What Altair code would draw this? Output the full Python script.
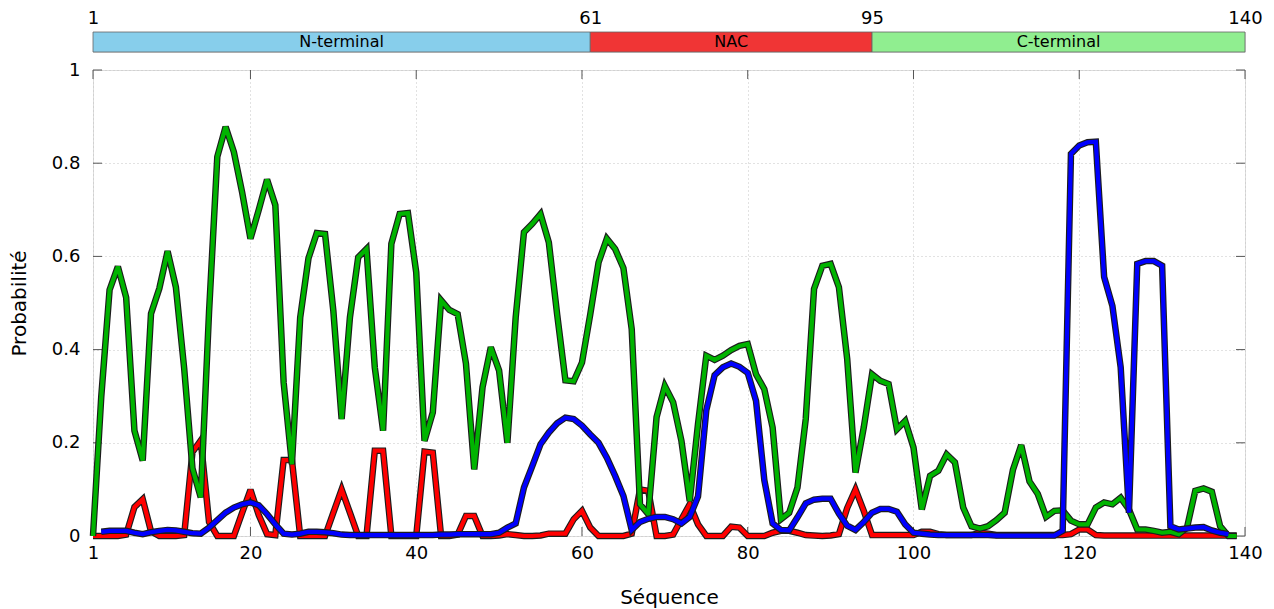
import altair as alt
import pandas as pd

# ---------------- data ----------------
green_start = 1
green = [0.0, 0.30, 0.528, 0.578, 0.512, 0.226, 0.162, 0.477, 0.531, 0.611,
         0.534, 0.36, 0.145, 0.083, 0.48, 0.814, 0.878, 0.824, 0.737, 0.638,
         0.70, 0.765, 0.71, 0.33, 0.154, 0.469, 0.596, 0.650, 0.648, 0.483,
         0.251, 0.469, 0.598, 0.616, 0.362, 0.226, 0.627, 0.691, 0.693, 0.566,
         0.204, 0.265, 0.506, 0.485, 0.476, 0.37, 0.143, 0.319, 0.405, 0.355,
         0.200, 0.469, 0.652, 0.670, 0.691, 0.630, 0.476, 0.334, 0.332, 0.372,
         0.476, 0.587, 0.638, 0.616, 0.575, 0.444, 0.068, 0.047, 0.255, 0.322,
         0.287, 0.204, 0.075, 0.24, 0.387, 0.378, 0.387, 0.399, 0.408, 0.412,
         0.347, 0.315, 0.233, 0.036, 0.050, 0.104, 0.251, 0.530, 0.580, 0.584,
         0.534, 0.38, 0.136, 0.233, 0.347, 0.333, 0.326, 0.229, 0.247, 0.190,
         0.057, 0.129, 0.140, 0.175, 0.158, 0.061, 0.021, 0.016, 0.021, 0.034,
         0.050, 0.142, 0.195, 0.117, 0.09, 0.041, 0.054, 0.055, 0.033, 0.025,
         0.025, 0.061, 0.072, 0.068, 0.082, 0.057, 0.014, 0.014, 0.011, 0.007,
         0.009, 0.004, 0.018, 0.097, 0.102, 0.095, 0.021, 0.0, 0.0]

red_start = 1
red = [0.0, 0.0, 0.0, 0.0, 0.003, 0.062, 0.079, 0.01, 0.0, 0.0,
       0.0, 0.002, 0.18, 0.205, 0.03, 0.0, 0.0, 0.0, 0.05, 0.099,
       0.045, 0.004, 0.002, 0.163, 0.163, 0.0, 0.0, 0.0, 0.0, 0.05,
       0.1, 0.05, 0.0, 0.0, 0.183, 0.183, 0.0, 0.0, 0.0, 0.0,
       0.181, 0.179, 0.0, 0.0, 0.003, 0.043, 0.043, 0.0, 0.0, 0.001,
       0.004, 0.002, 0.0, 0.0, 0.001, 0.005, 0.005, 0.005, 0.036, 0.054,
       0.018, 0.0, 0.0, 0.0, 0.0, 0.005, 0.1, 0.097, 0.0, 0.0,
       0.003, 0.036, 0.068, 0.025, 0.0, 0.0, 0.0, 0.02, 0.018, 0.0,
       0.0, 0.0, 0.007, 0.011, 0.011, 0.007, 0.002, 0.001, 0.0, 0.001,
       0.004, 0.06, 0.1, 0.054, 0.002, 0.002, 0.002, 0.002, 0.002, 0.002,
       0.009, 0.009, 0.004, 0.002, 0.002, 0.002, 0.002, 0.007, 0.005, 0.002,
       0.002, 0.002, 0.002, 0.002, 0.002, 0.002, 0.002, 0.002, 0.004, 0.014,
       0.014, 0.002, 0.001, 0.001, 0.001, 0.001, 0.001, 0.001, 0.001, 0.001,
       0.001, 0.001, 0.001, 0.001, 0.001, 0.001, 0.001, 0.001, 0.001]

blue_start = 2
blue = [0.009, 0.011, 0.011, 0.011, 0.007, 0.004, 0.008, 0.011, 0.013,
        0.012, 0.009, 0.006, 0.005, 0.018, 0.034, 0.05, 0.061, 0.068, 0.072,
        0.066, 0.047, 0.025, 0.005, 0.003, 0.005, 0.009, 0.009, 0.008, 0.006,
        0.003, 0.002, 0.002, 0.002, 0.002, 0.002, 0.002, 0.002, 0.002, 0.002,
        0.002, 0.002, 0.003, 0.003, 0.004, 0.004, 0.004, 0.004, 0.004, 0.007,
        0.018, 0.027, 0.104, 0.15, 0.197, 0.222, 0.242, 0.254, 0.251, 0.237,
        0.218, 0.2, 0.168, 0.129, 0.086, 0.013, 0.03, 0.037, 0.041, 0.041,
        0.036, 0.027, 0.041, 0.085, 0.27, 0.345, 0.362, 0.37, 0.363, 0.35,
        0.29, 0.12, 0.027, 0.013, 0.012, 0.04, 0.07, 0.078, 0.08, 0.08,
        0.048, 0.022, 0.013, 0.03, 0.05, 0.058, 0.058, 0.052, 0.025, 0.007,
        0.005, 0.003, 0.002, 0.002, 0.002, 0.002, 0.002, 0.002, 0.002, 0.001,
        0.001, 0.001, 0.001, 0.001, 0.001, 0.001, 0.001, 0.011, 0.82, 0.838,
        0.845, 0.846, 0.556, 0.494, 0.362, 0.05, 0.584, 0.59, 0.59, 0.58,
        0.021, 0.014, 0.016, 0.018, 0.019, 0.012, 0.007, 0.004]

series_colors = {"red": "#ff0000", "green": "#00b400", "blue": "#0000ff"}

domain_names = ["N-terminal", "NAC", "C-terminal"]
domain_start = [1, 61, 95]
domain_end = [61, 95, 140]
domain_colors = ["#87ceeb", "#f03535", "#90ee90"]
boundary_ticks = [1, 61, 95, 140]

x_ticks = [1, 20, 40, 60, 80, 100, 120, 140]
y_ticks = [0, 0.2, 0.4, 0.6, 0.8, 1.0]

# ---------------- layout constants ----------------
W, H = 1152, 466
BAR_H = 20
FONT = "DejaVu Sans"
TICK = 9

xscale = alt.Scale(domain=[1, 140], nice=False, zero=False)
yscale = alt.Scale(domain=[0, 1], nice=False, zero=False)

x_axis = alt.Axis(values=x_ticks, ticks=False, domain=False, grid=True,
                  gridDash=[1, 3], gridColor="#c4c4c4", gridWidth=1,
                  labelFontSize=18, labelFont=FONT, labelColor="black",
                  labelPadding=8, labelFlush=False, labelOverlap=False,
                  title="Séquence", titleFontSize=20, titleFont=FONT,
                  titleFontWeight="normal", titleColor="black", titlePadding=25)
y_axis = alt.Axis(values=y_ticks, ticks=False, domain=False, grid=True,
                  gridDash=[1, 3], gridColor="#c4c4c4", gridWidth=1,
                  format="~g", labelFontSize=18, labelFont=FONT,
                  labelColor="black", labelPadding=13, labelFlush=False,
                  labelOverlap=False,
                  title="Probabilité", titleFontSize=20, titleFont=FONT,
                  titleFontWeight="normal", titleColor="black", titlePadding=22)


def series_df(start, values):
    return pd.DataFrame({"i": list(range(start, start + len(values))), "p": values})


layers = []
for name, start, vals in [("red", red_start, red), ("green", green_start, green),
                          ("blue", blue_start, blue)]:
    df = series_df(start, vals)
    base = alt.Chart(df).encode(
        x=alt.X("i:Q", scale=xscale, axis=x_axis),
        y=alt.Y("p:Q", scale=yscale, axis=y_axis),
    )
    layers.append(base.mark_line(color="#1c1c1c", strokeWidth=6.5,
                                 strokeMiterLimit=3))
    layers.append(base.mark_line(color=series_colors[name], strokeWidth=4.2,
                                 strokeMiterLimit=3))

# inward tick marks on all four sides
ytick_df = pd.DataFrame({"p": y_ticks})
xtick_df = pd.DataFrame({"i": x_ticks})
tick_color = "#555555"
left_ticks = alt.Chart(ytick_df).mark_rule(color=tick_color, strokeWidth=1).encode(
    y=alt.Y("p:Q", scale=yscale, axis=y_axis), x=alt.value(0), x2=alt.value(TICK))
right_ticks = alt.Chart(ytick_df).mark_rule(color=tick_color, strokeWidth=1).encode(
    y=alt.Y("p:Q", scale=yscale, axis=y_axis), x=alt.value(W - TICK), x2=alt.value(W))
bottom_ticks = alt.Chart(xtick_df).mark_rule(color=tick_color, strokeWidth=1).encode(
    x=alt.X("i:Q", scale=xscale, axis=x_axis), y=alt.value(H - TICK), y2=alt.value(H))
top_ticks = alt.Chart(xtick_df).mark_rule(color=tick_color, strokeWidth=1).encode(
    x=alt.X("i:Q", scale=xscale, axis=x_axis), y=alt.value(0), y2=alt.value(TICK))

main = alt.layer(left_ticks, right_ticks, bottom_ticks, top_ticks, *layers).properties(
    width=W, height=H)

# ---------------- domain bar ----------------
dom_df = pd.DataFrame({
    "name": domain_names,
    "start": domain_start,
    "end": domain_end,
})
dom_df["mid"] = (dom_df["start"] + dom_df["end"]) / 2

top_axis = alt.Axis(orient="top", values=boundary_ticks, ticks=False, domain=False,
                    grid=False, labelFontSize=18, labelFont=FONT, labelColor="black",
                    labelPadding=5, labelFlush=False, labelOverlap=False, title=None)

bar_rect = alt.Chart(dom_df).mark_rect(stroke="#666666", strokeWidth=0.8).encode(
    x=alt.X("start:Q", scale=xscale, axis=top_axis),
    x2="end:Q",
    color=alt.Color("name:N", scale=alt.Scale(domain=domain_names, range=domain_colors),
                    legend=None),
)
bar_text = alt.Chart(dom_df).mark_text(fontSize=16, font=FONT, color="black",
                                       baseline="middle").encode(
    x=alt.X("mid:Q", scale=xscale, axis=top_axis),
    y=alt.value(BAR_H / 2),
    text="name:N",
)
bar = alt.layer(bar_rect, bar_text).properties(width=W, height=BAR_H)

chart = alt.vconcat(bar, main, spacing=18, bounds="flush").properties(
    padding={"left": 0, "top": 0, "right": 0, "bottom": 0}
).configure_view(stroke="#8c8c8c", strokeWidth=1).configure(background="white")

chart.save("out.html", embed_options={"renderer": "svg", "actions": False})
